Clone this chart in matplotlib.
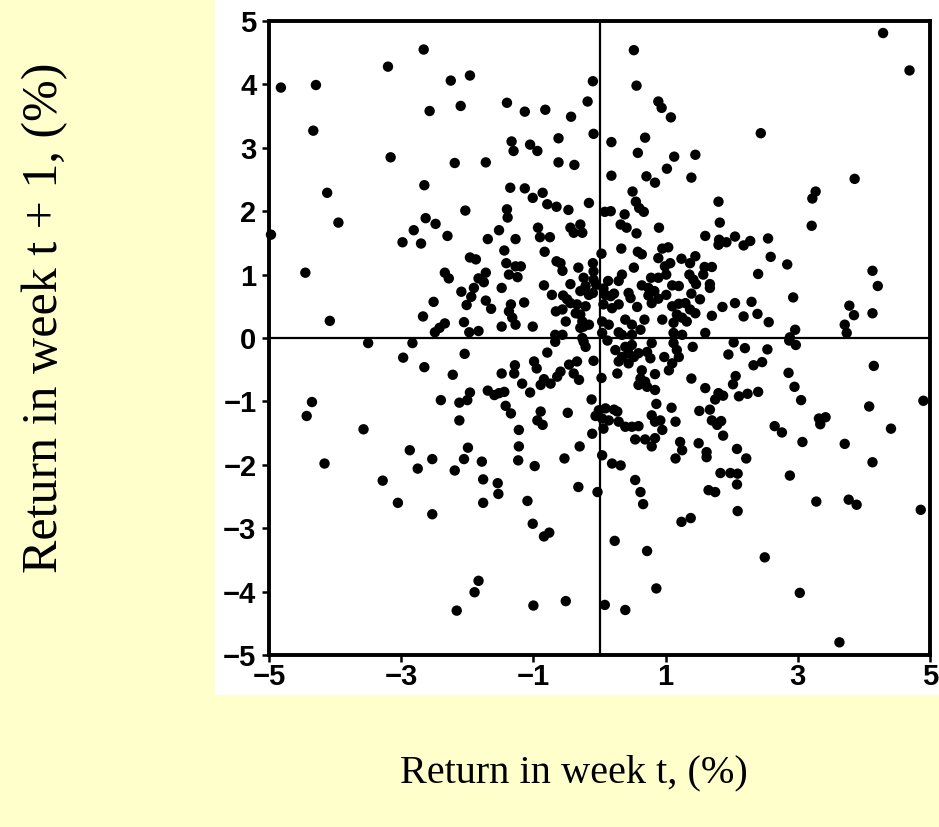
import matplotlib
matplotlib.use("Agg")
import matplotlib.pyplot as plt
from matplotlib.patches import Rectangle

# Scatter points (return week t, return week t+1)
pts = [
(-2.66,4.55),(-3.20,4.28),(-4.82,3.95),(-4.29,3.99),(-2.25,4.06),(-1.96,4.14),(-2.57,3.58),(-2.10,3.66),(-4.33,3.27),(-3.16,2.85),(-2.19,2.76),(-1.72,2.77),
(0.52,4.54),(0.56,3.98),(-0.10,4.05),(-0.18,3.73),(-1.40,3.71),(-1.13,3.57),(-0.82,3.60),(-0.43,3.49),(0.89,3.73),(0.94,3.63),(1.08,3.48),(-0.09,3.22),(0.18,3.09),(0.69,3.16),(0.58,2.92),(-1.33,3.10),(-1.30,2.95),(-1.05,3.05),(-0.94,2.95),(-0.62,3.15),(-0.62,2.77),(-0.38,2.73),(1.13,2.86),(1.45,2.89),(1.02,2.67),(0.18,2.56),(0.71,2.55),(1.39,2.53),
(4.29,4.81),(4.69,4.22),(2.44,3.23),(3.86,2.51),
(-2.65,2.41),(-4.12,2.29),(-2.03,2.01),(-3.95,1.82),(-2.63,1.89),(-2.48,1.80),(-2.81,1.70),(-2.30,1.61),(-2.98,1.51),(-2.70,1.49),(-4.97,1.63),(-1.69,1.56),(-1.96,1.27),(-1.87,1.24),(-4.45,1.03),(-2.34,1.03),(-2.28,0.94),(-1.83,0.94),(-1.75,0.88),(-1.90,0.79),(-2.09,0.73),(-1.94,0.65),(-2.01,0.52),(-1.72,0.59),(-2.51,0.57),(-1.72,1.03),(-4.08,0.27),(-2.67,0.34),(-2.05,0.25),(-2.34,0.23),(-2.42,0.16),(-2.49,0.09),(-1.97,0.09),(-1.83,0.11),(-3.50,-0.08),(-2.83,-0.08),
(-2.97,-0.31),(-2.65,-0.46),(-2.04,-0.25),(-2.22,-0.58),(-1.96,-0.86),(-2.00,-0.98),(-2.12,-1.02),(-2.40,-0.98),(-2.12,-1.30),(-1.69,-0.83),(-4.35,-1.01),(-4.43,-1.23),(-3.57,-1.44),(-1.99,-1.73),(-2.87,-1.77),(-2.53,-1.91),(-2.05,-1.91),(-1.78,-1.95),(-4.16,-1.98),(-2.75,-2.06),(-2.19,-2.09),(-1.76,-2.23),(-3.28,-2.25),(-3.05,-2.60),(-1.76,-2.60),
(-2.53,-2.78),(-1.83,-3.83),(-1.89,-4.01),(-2.16,-4.30),
(-1.09,-2.57),(-1.01,-2.93),(-0.84,-3.13),(-0.76,-3.07),(-1.00,-4.22),(-0.51,-4.15),(0.08,-4.21),(0.39,-4.29),(0.66,-2.62),(1.24,-2.90),(1.38,-2.84),(0.23,-3.20),(0.72,-3.36),(0.86,-3.95),
(2.09,-2.73),(3.28,-2.58),(3.77,-2.55),(3.89,-2.63),(4.86,-2.71),(2.50,-3.46),(3.03,-4.02),(3.63,-4.80),
(2.03,-0.07),(2.20,-0.16),(2.54,-0.18),(1.95,-0.26),(2.97,-0.11),(2.87,-0.04),(2.33,-0.43),(2.46,-0.38),(4.15,-0.44),(2.86,-0.55),(2.06,-0.60),(2.02,-0.73),(2.95,-0.77),(1.60,-0.79),(1.80,-0.87),(1.87,-0.91),(1.75,-0.97),(2.11,-0.92),(2.24,-0.88),(2.40,-0.85),(3.05,-0.98),(4.90,-0.99),(4.08,-1.08),(1.67,-1.13),(1.70,-1.30),(1.84,-1.31),(1.78,-1.37),(3.32,-1.27),(3.42,-1.25),(3.34,-1.36),(2.65,-1.39),(2.76,-1.49),(4.41,-1.43),(1.87,-1.54),(3.07,-1.64),(3.71,-1.67),(2.08,-1.75),(1.62,-1.80),(1.62,-1.88),(2.22,-1.90),(4.13,-1.96),(1.83,-2.13),(1.98,-2.13),(2.09,-2.14),(2.88,-2.17),(2.08,-2.31),(1.65,-2.40),(1.75,-2.43),
(3.27,2.31),(3.22,2.20),(1.80,2.15),(3.21,1.77),(1.82,1.82),(1.60,1.61),(1.81,1.55),(1.80,1.47),(1.92,1.51),(2.05,1.60),(2.18,1.46),(2.28,1.53),(2.55,1.57),(2.59,1.28),(2.84,1.16),(2.40,1.01),(1.70,1.12),(1.67,0.85),(1.67,0.79),(4.13,1.06),(4.21,0.82),(2.93,0.64),(2.05,0.55),(2.30,0.57),(1.86,0.49),(1.70,0.35),(2.18,0.34),(2.39,0.38),(2.56,0.25),(3.78,0.51),(3.85,0.36),(4.13,0.39),(3.71,0.21),(2.96,0.13),(3.74,0.08),(1.60,0.08),(2.88,0.01),
(0.84,2.45),(-1.35,2.37),(-1.13,2.36),(-1.01,2.21),(-0.86,2.29),(-0.79,2.11),(-0.65,2.07),(-0.47,2.02),(-0.16,2.13),(0.50,2.31),(0.55,2.15),(0.60,2.05),(0.67,1.99),(0.08,1.99),(0.17,2.00),(0.38,1.95),(-1.40,2.03),(-1.39,1.90),(0.32,1.79),(0.41,1.74),(0.56,1.65),(0.90,1.74),(-1.52,1.70),(-1.27,1.56),(-0.93,1.74),(-0.90,1.59),(-0.75,1.59),(-0.44,1.74),(-0.29,1.79),(-0.39,1.66),(-0.26,1.66),(-1.44,1.38),(-0.83,1.36),(0.03,1.33),(0.33,1.41),(0.58,1.36),(0.64,1.32),(0.95,1.41),(1.04,1.43),(0.89,1.26),(0.99,1.13),(1.07,1.18),(1.24,1.25),(1.45,1.29),(1.37,1.18),(1.59,1.12),(-1.41,1.18),(-1.27,1.13),(-1.19,1.13),(-0.65,1.21),(-0.59,1.18),(-0.56,1.06),(-0.32,1.11),(-0.10,1.18),(-0.09,1.05),(0.52,1.11),(-1.37,1.00),(-1.24,0.96),(0.34,1.00),(0.29,0.90),(-0.24,0.95),(-0.21,0.82),(-0.09,0.92),(-0.05,0.84),(0.78,0.95),(0.89,0.95),(1.01,1.00),(1.36,1.00),(1.42,0.92),(1.57,1.00),(1.46,0.85),(-1.48,0.79),(-0.84,0.83),(-0.44,0.85),(0.13,0.90),(0.64,0.83),(0.74,0.79),(0.83,0.74),(1.10,0.83),(1.20,0.82),(1.01,0.68),(1.39,0.70),(1.52,0.61),(-0.72,0.68),(-0.55,0.67),(-0.49,0.61),(-0.29,0.74),(-0.16,0.68),(-0.10,0.71),(0.06,0.78),(0.09,0.68),(0.17,0.66),(0.22,0.70),(0.44,0.71),(0.47,0.63),(0.74,0.67),(0.79,0.55),(0.89,0.62),(-1.64,0.46),(-1.34,0.53),(-1.37,0.42),(-1.14,0.56),(-0.44,0.55),(-0.34,0.53),(-0.21,0.50),(-0.36,0.39),(-0.66,0.42),(-0.56,0.45),(0.06,0.53),(0.19,0.47),(0.29,0.53),(0.57,0.49),(1.10,0.50),(1.20,0.54),(1.30,0.55),(1.37,0.45),(1.45,0.39),(-1.32,0.32),(-1.27,0.21),(-1.48,0.18),(-1.01,0.18),(-0.51,0.26),(-0.29,0.37),(-0.26,0.26),(-0.24,0.18),(-0.29,0.16),(-0.16,0.21),(0.04,0.26),(0.14,0.21),(0.39,0.29),(0.49,0.21),(0.68,0.29),(0.95,0.29),(1.12,0.24),(1.17,0.37),(1.25,0.32),(1.32,0.26),(-0.67,0.05),(-0.56,0.05),(0.29,0.09),(0.34,0.05),(0.49,0.05),(0.62,0.13),(1.12,0.08),(1.25,0.05),(0.04,0.08),(-0.26,0.00),
(-0.67,-0.06),(-0.24,-0.06),(-0.21,-0.14),(0.12,-0.04),(-0.79,-0.23),(-0.09,-0.36),(-1.28,-0.43),(-1.29,-0.56),(-0.99,-0.37),(-0.95,-0.48),(-0.46,-0.42),(-0.34,-0.37),(-1.48,-0.56),(-0.59,-0.53),(-0.64,-0.61),(-0.39,-0.56),(-0.31,-0.66),(-0.84,-0.65),(-0.89,-0.74),(-0.74,-0.72),(-1.17,-0.72),(-1.05,-0.86),(-1.59,-0.90),(-1.52,-0.87),(-1.44,-0.85),(0.03,-0.63),(0.27,-0.56),(0.24,-0.19),(0.34,-0.30),(0.29,-0.37),(0.44,-0.24),(0.52,-0.30),(0.44,-0.40),(0.39,-0.14),(0.49,-0.11),(0.59,-0.24),(0.79,-0.08),(0.72,-0.22),(0.77,-0.32),(0.98,-0.30),(1.12,-0.08),(1.17,-0.19),(1.20,-0.30),(1.10,-0.40),(1.05,-0.51),(1.41,-0.14),(0.64,-0.51),(0.62,-0.64),(0.69,-0.69),(0.59,-0.74),(0.84,-0.57),(0.72,-0.77),(0.84,-0.82),(1.39,-0.64),(-0.12,-0.97),(0.86,-1.04),(1.09,-1.10),(1.51,-1.15),(-1.42,-1.07),(-1.34,-1.19),(-0.89,-1.16),(-0.94,-1.30),(-0.86,-1.37),(-0.48,-1.18),(-0.01,-1.14),(0.09,-1.11),(-0.06,-1.23),(0.04,-1.27),(0.22,-1.13),(0.27,-1.16),(0.14,-1.30),(0.29,-1.32),(0.39,-1.40),(0.49,-1.40),(0.59,-1.39),(0.06,-1.43),(0.79,-1.22),(0.84,-1.32),(0.92,-1.30),(0.95,-1.45),(1.15,-1.32),(-1.22,-1.45),(-0.11,-1.51),(0.54,-1.60),(0.69,-1.60),(0.84,-1.58),(0.79,-1.71),(1.22,-1.64),(1.25,-1.77),(1.15,-1.90),(1.50,-1.66),(-1.22,-1.71),(-0.30,-1.71),(0.04,-1.85),(-1.23,-1.93),(-0.53,-1.90),(-0.98,-2.02),(0.19,-1.98),(0.32,-2.01),(-1.54,-2.29),(-1.53,-2.46),(-0.32,-2.35),(-0.03,-2.43),(0.54,-2.24),(0.62,-2.43),
]
ret_t = [p[0] for p in pts]
ret_t1 = [p[1] for p in pts]

x_ticks = [-5, -3, -1, 1, 3, 5]
y_ticks = [-5, -4, -3, -2, -1, 0, 1, 2, 3, 4, 5]
x_label = "Return in week t, (%)"
y_label = "Return in week t + 1, (%)"

bg = "#FFFFCC"
fig = plt.figure(figsize=(9.39, 8.27), dpi=100, facecolor=bg)
fig.patches.append(Rectangle((215/939, 1-695/827), 1-215/939, 695/827,
                             transform=fig.transFigure, facecolor="white",
                             edgecolor="none", zorder=-5))

ax = fig.add_axes([269/939, 1-655/827, (930-269)/939, (655-21)/827])
ax.set_zorder(5)
ax.set_facecolor("white")
ax.scatter(ret_t, ret_t1, s=56, color="black", edgecolors="none", zorder=3, clip_on=False)
ax.axhline(0, color="black", lw=1.6, zorder=2)
ax.axvline(0, color="black", lw=1.6, zorder=2)
ax.set_xlim(-5, 5)
ax.set_ylim(-5, 5)
ax.set_xticks(x_ticks)
ax.set_yticks(y_ticks)
ax.set_xticklabels([str(v).replace("-", "\u2212") for v in x_ticks])
ax.set_yticklabels([str(v).replace("-", "\u2212") for v in y_ticks])
for s in ax.spines.values():
    s.set_linewidth(2.8)
ax.tick_params(axis="both", direction="out", length=5, width=1.8,
               labelsize=21)
ax.tick_params(axis="y", pad=4)
ax.tick_params(axis="x", pad=1)
for lab in ax.get_xticklabels() + ax.get_yticklabels():
    lab.set_fontfamily("Liberation Sans")
    lab.set_fontweight("bold")

fig.text(574/939, 1-773/827, x_label, ha="center", va="center",
         fontsize=29, family="Liberation Serif")
fig.text(45/939, 1-318/827, y_label, ha="center", va="center",
         rotation=90, fontsize=36, family="Liberation Serif")

fig.savefig("out.png", dpi=100, facecolor=bg)
